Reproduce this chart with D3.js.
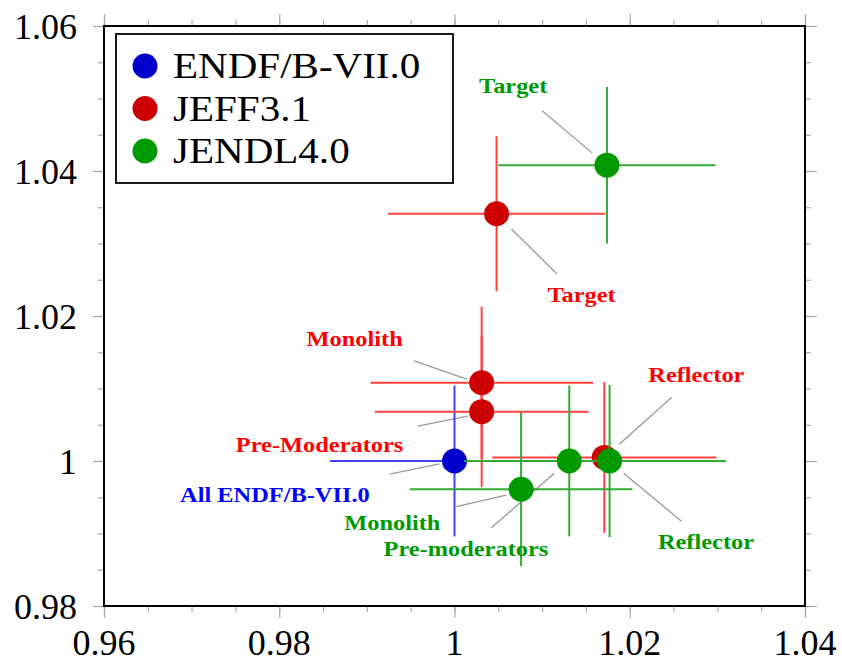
<!DOCTYPE html>
<html>
<head>
<meta charset="utf-8">
<script src="https://cdn.jsdelivr.net/npm/d3@7"></script>
<style>
    body { margin: 0; background: #fff; }
    text { font-family: "Liberation Serif", "Times New Roman", serif; }
    .lbl { font-weight: bold; font-size: 20px; }
</style>
</head>
<body>
<div id="chart"></div>
<script>
// values
var seriesNames = ["ENDF/B-VII.0", "JEFF3.1", "JENDL4.0"]
var seriesColors = ["#0000cc", "#cc0000", "#009900"]
var barColors = ["#4040ff", "#ff4040", "#33aa33"]

// [x, y, xerr, yerr] per point
var endfPoints = [
    [1.0000, 1.0000, 0.0142, 0.0104]
]
var jeffPoints = [
    [1.0048, 1.0341, 0.0124, 0.0107],  // Target
    [1.0031, 1.0108, 0.0127, 0.0105],  // Monolith
    [1.0031, 1.0068, 0.0122, 0.0104],  // Pre-Moderators
    [1.0171, 1.0005, 0.0128, 0.0104]   // Reflector
]
var jendlPoints = [
    [1.0174, 1.0408, 0.0124, 0.0108],  // Target
    [1.0076, 0.9961, 0.0127, 0.0106],  // Monolith
    [1.0131, 1.0000, 0.0120, 0.0104],  // Pre-moderators
    [1.0177, 1.0000, 0.0133, 0.0105]   // Reflector
]
var allPoints = [endfPoints, jeffPoints, jendlPoints]

var xTicks = [0.96, 0.98, 1.00, 1.02, 1.04]
var xTickLabels = ["0.96", "0.98", "1", "1.02", "1.04"]
var yTicks = [0.98, 1.00, 1.02, 1.04, 1.06]
var yTickLabels = ["0.98", "1", "1.02", "1.04", "1.06"]

// annotation: text, series index, label x, label y, leader x1, y1, x2, y2 (axis units)
var notes = [
    ["Target", 2, 1.0067, 1.0508, 1.0100, 1.0483, 1.0157, 1.0425],
    ["Target", 1, 1.0145, 1.0219, 1.0065, 1.0320, 1.0117, 1.0258],
    ["Monolith", 1, 0.9886, 1.0159, 0.9954, 1.0138, 1.0014, 1.0113],
    ["Pre-Moderators", 1, 0.9846, 1.0012, 0.9958, 1.0048, 1.0015, 1.0062],
    ["All ENDF/B-VII.0", 0, 0.9795, 0.9943, 0.9926, 0.9982, 0.9983, 0.9996],
    ["Reflector", 1, 1.0276, 1.0109, 1.0248, 1.0088, 1.0188, 1.0023],
    ["Reflector", 2, 1.0287, 0.9879, 1.0193, 0.9983, 1.0259, 0.9917],
    ["Monolith", 2, 0.9929, 0.9905, 1.0002, 0.9937, 1.0059, 0.9953],
    ["Pre-moderators", 2, 1.0013, 0.9869, 1.0042, 0.9908, 1.0114, 0.9983]
]

var margin = {top: 26, right: 37, bottom: 56, left: 104},
    width = 842 - margin.left - margin.right,
    height = 662 - margin.top - margin.bottom;

var x = d3.scaleLinear().domain([0.96, 1.04]).range([0, width])
var y = d3.scaleLinear().domain([0.98, 1.06]).range([height, 0])

var svg = d3.select("#chart").append("svg")
    .attr("width", 842)
    .attr("height", 662)
    .append("g")
    .attr("transform", "translate(" + margin.left + "," + margin.top + ")");

var minorX = d3.range(0.96, 1.0401, 0.005)
var minorY = d3.range(0.98, 1.0601, 0.005)

function tickAxis(axisFn, vals, size, tr) {
    var g = svg.append("g").attr("transform", tr)
        .call(axisFn.tickValues(vals).tickSize(size).tickFormat(""))
    g.select(".domain").remove()
    g.selectAll("line").attr("stroke", "#aaa").attr("stroke-width", 1.2)
    return g
}
// minor + major ticks on all four sides
tickAxis(d3.axisBottom(x), minorX, 6, "translate(0," + height + ")")
tickAxis(d3.axisTop(x), minorX, 6, "translate(0,0)")
tickAxis(d3.axisLeft(y), minorY, 6, "translate(0,0)")
tickAxis(d3.axisRight(y), minorY, 6, "translate(" + width + ",0)")
tickAxis(d3.axisBottom(x), xTicks, 12, "translate(0," + height + ")")
tickAxis(d3.axisTop(x), xTicks, 12, "translate(0,0)")
tickAxis(d3.axisLeft(y), yTicks, 11, "translate(0,0)")
tickAxis(d3.axisRight(y), yTicks, 12, "translate(" + width + ",0)")

// tick labels
svg.selectAll(".xl").data(xTicks).enter().append("text")
    .attr("x", function (d) { return x(d) })
    .attr("y", height + 49)
    .attr("text-anchor", "middle")
    .style("font-size", "36px")
    .text(function (d, i) { return xTickLabels[i] })
svg.selectAll(".yl").data(yTicks).enter().append("text")
    .attr("x", -27)
    .attr("y", function (d) { return y(d) + 13 })
    .attr("text-anchor", "end")
    .style("font-size", "36px")
    .text(function (d, i) { return yTickLabels[i] })

// leader lines
svg.selectAll(".leader").data(notes).enter().append("line")
    .attr("x1", function (d) { return x(d[4]) })
    .attr("y1", function (d) { return y(d[5]) })
    .attr("x2", function (d) { return x(d[6]) })
    .attr("y2", function (d) { return y(d[7]) })
    .attr("stroke", "#999")
    .attr("stroke-width", 1.3)

// error bars and markers, one series after the other
allPoints.forEach(function (pts, s) {
    var g = svg.append("g")
    pts.forEach(function (p) {
        g.append("line")
            .attr("x1", x(p[0] - p[2])).attr("x2", x(p[0] + p[2]))
            .attr("y1", y(p[1])).attr("y2", y(p[1]))
            .attr("stroke", barColors[s]).attr("stroke-width", 2)
        g.append("line")
            .attr("x1", x(p[0])).attr("x2", x(p[0]))
            .attr("y1", y(p[1] - p[3])).attr("y2", y(p[1] + p[3]))
            .attr("stroke", barColors[s]).attr("stroke-width", 2)
    })
    g.selectAll("circle").data(pts).enter().append("circle")
        .attr("cx", function (d) { return x(d[0]) })
        .attr("cy", function (d) { return y(d[1]) })
        .attr("r", 12.5)
        .attr("fill", seriesColors[s])
})

// annotation labels
svg.selectAll(".lbl").data(notes).enter().append("text")
    .attr("class", "lbl")
    .attr("text-anchor", "middle")
    .attr("transform", function (d) {
        return "translate(" + x(d[2]) + "," + y(d[3]) + ") scale(1.22,1)"
    })
    .attr("fill", function (d) { return d[1] == 0 ? "#0000ff" : d[1] == 1 ? "#ff0000" : "#009900" })
    .text(function (d) { return d[0] })

// frame
svg.append("rect")
    .attr("width", width).attr("height", height)
    .attr("fill", "none").attr("stroke", "#000").attr("stroke-width", 2)

// legend
var leg = svg.append("g").attr("transform", "translate(12,8)")
leg.append("rect")
    .attr("width", 337).attr("height", 149)
    .attr("fill", "#fff").attr("stroke", "#000").attr("stroke-width", 1.8)
seriesNames.forEach(function (name, i) {
    var row = leg.append("g").attr("transform", "translate(0," + (44 + i * 42.5) + ")")
    row.append("circle").attr("cx", 29).attr("cy", -12).attr("r", 12.5).attr("fill", seriesColors[i])
    row.append("text")
        .attr("transform", "translate(57,0) scale(1.14,1)")
        .style("font-size", "36px")
        .text(name)
})
</script>
</body>
</html>
